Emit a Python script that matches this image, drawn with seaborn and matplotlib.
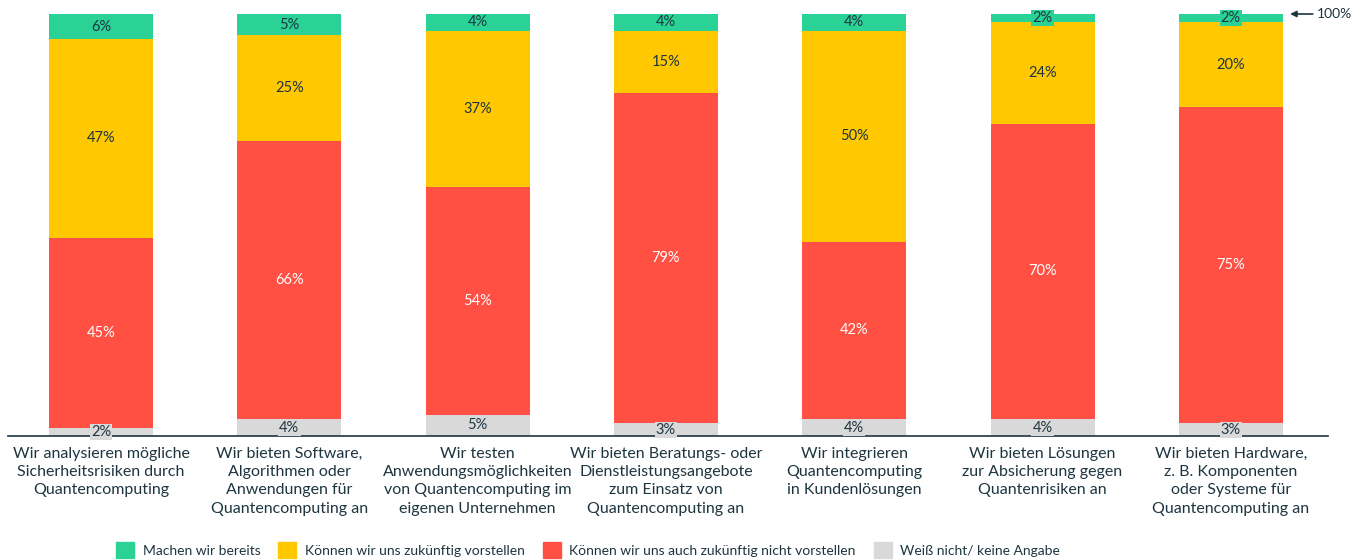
import numpy as np
import pandas as pd
import seaborn as sns
import matplotlib.pyplot as plt
from matplotlib.patches import Patch

# Kategorien (x-Achse)
categories = [
    "Wir analysieren mögliche\nSicherheitsrisiken durch\nQuantencomputing",
    "Wir bieten Software,\nAlgorithmen oder\nAnwendungen für\nQuantencomputing an",
    "Wir testen\nAnwendungsmöglichkeiten\nvon Quantencomputing im\neigenen Unternehmen",
    "Wir bieten Beratungs- oder\nDienstleistungsangebote\nzum Einsatz von\nQuantencomputing an",
    "Wir integrieren\nQuantencomputing\nin Kundenlösungen",
    "Wir bieten Lösungen\nzur Absicherung gegen\nQuantenrisiken an",
    "Wir bieten Hardware,\nz. B. Komponenten\noder Systeme für\nQuantencomputing an",
]
# Werte in Prozent
weiss_nicht = [2, 4, 5, 3, 4, 4, 3]
nicht_vorstellen = [45, 66, 54, 79, 42, 70, 75]
zukuenftig = [47, 25, 37, 15, 50, 24, 20]
bereits = [6, 5, 4, 4, 4, 2, 2]

series_names = ["Weiß nicht/ keine Angabe",
                "Können wir uns auch zukünftig nicht vorstellen",
                "Können wir uns zukünftig vorstellen",
                "Machen wir bereits"]
colors = ["#d9d9d9", "#ff5043", "#ffc800", "#2ad296"]
text_colors = ["#1e3540", "white", "#1e3540", "#1e3540"]
dark = "#1e3540"

plt.rcParams['font.family'] = ['Lato', 'DejaVu Sans']

values = np.array([weiss_nicht, nicht_vorstellen, zukuenftig, bereits], dtype=float)
# Stapel auf 100 % normieren (Rundungsdifferenzen)
heights = values / values.sum(axis=0) * 100
cum = np.cumsum(heights, axis=0)

fig = plt.figure(figsize=(13.68, 5.6), dpi=100)
ax = fig.add_axes([8 / 1368, 1 - 436 / 560, 1320 / 1368, 422 / 560])

# gestapelt: von oben nach unten zeichnen
for i in range(3, -1, -1):
    df = pd.DataFrame({"cat": categories, "val": cum[i]})
    sns.barplot(data=df, x="cat", y="val", color=colors[i], width=0.552,
                saturation=1, ax=ax, zorder=2)

# Prozentlabels
for j in range(len(categories)):
    for i in range(4):
        y = cum[i, j] - heights[i, j] / 2
        ax.text(j, y, f"{int(values[i, j])}%", ha="center", va="center",
                fontsize=10.5, color=text_colors[i], zorder=5,
                bbox=dict(boxstyle="square,pad=0.08", fc=colors[i], ec="none"))

ax.set_xlim(-0.494, 6.516)
ax.set_ylim(0, 100)
ax.set_xlabel("")
ax.set_ylabel("")
ax.set_yticks([])
ax.tick_params(axis="x", length=0, pad=8, labelsize=11.5, labelcolor=dark)
for lbl in ax.get_xticklabels():
    lbl.set_linespacing(1.38)
for s in ["top", "right", "left"]:
    ax.spines[s].set_visible(False)
ax.spines["bottom"].set_color(dark)
ax.spines["bottom"].set_linewidth(1.2)
ax.spines["bottom"].set_zorder(4)

# 100%-Markierung
ax.annotate("", xy=(6.3, 100), xytext=(6.45, 100), annotation_clip=False,
            arrowprops=dict(arrowstyle="-|>", color=dark, lw=1.2,
                            mutation_scale=9))
fig.text(1317 / 1368, 1 - 14 / 560, "100%", ha="left", va="center",
         fontsize=10, color=dark)

handles = [Patch(color=colors[i]) for i in [3, 2, 1, 0]]
labels = [series_names[i] for i in [3, 2, 1, 0]]
fig.legend(handles, labels, loc="center", bbox_to_anchor=(588 / 1368, 1 - 550 / 560),
           ncol=4, frameon=False, fontsize=10, handlelength=1.3, handleheight=1.3,
           columnspacing=1.3, handletextpad=0.6, labelcolor=dark)

fig.savefig("out.png", dpi=100)
